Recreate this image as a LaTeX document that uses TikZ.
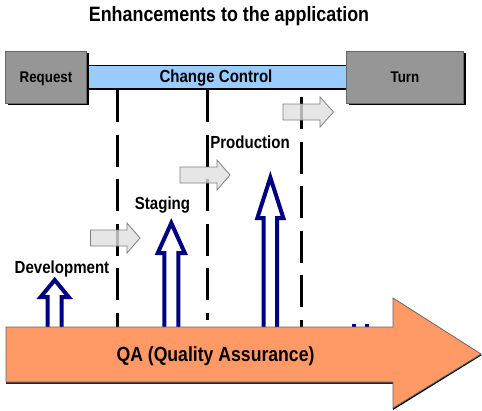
\documentclass[tikz,border=0pt]{standalone}
\usepackage{fontspec}
\setmainfont{Liberation Sans}
\newfontfamily\narrowbold[FakeStretch=0.86]{Liberation Sans Bold}
\usetikzlibrary{calc}
\definecolor{boxgray}{HTML}{969696}
\definecolor{barblue}{HTML}{99CCFF}
\definecolor{qaorange}{HTML}{FF9966}
\definecolor{navyline}{HTML}{000080}
\definecolor{flowgray}{HTML}{E0E0E0}
\tikzset{
  lbl/.style={font=\narrowbold\fontsize{17.5}{20}\selectfont,inner sep=0pt,text=black},
  boxlbl/.style={font=\narrowbold\fontsize{15.5}{18}\selectfont,inner sep=0pt,text=black},
  stagebox/.style={fill=boxgray,draw=black!60,line width=0.8pt,minimum height=52pt,inner sep=0pt},
  boxshadow/.style={fill=black,draw=none},
  dashline/.style={draw=black,line width=3pt,dash pattern=on 32pt off 12.5pt},
  flowarrow/.style={fill=flowgray,fill opacity=0.8,draw=black!50,line width=0.8pt},
  uparrow/.style={draw=navyline,line width=4pt,fill=white,miter limit=10},
  qashape/.style={fill=qaorange,draw=black!60,line width=0.8pt,line join=miter}
}
% right pointing block arrow: left x, head base x, tip x, centre y
\newcommand{\flowarr}[4]{%
  \path[flowarrow] (#1,#4-8) -- (#2,#4-8) -- (#2,#4-15) -- (#3,#4) -- (#2,#4+15) -- (#2,#4+8) -- (#1,#4+8) -- cycle;}
% upward hollow arrow: left x, right x, head base y, tip y, half width of head
\newcommand{\uparr}[5]{%
  \path[uparrow] (#1,327) -- (#1,#3) -- ({(#1+#2)/2-#5},#3) -- ({(#1+#2)/2},#4) -- ({(#1+#2)/2+#5},#3) -- (#2,#3) -- (#2,327);}
\begin{document}
\begin{tikzpicture}[x=1pt,y=-1pt]
\useasboundingbox (0,0) rectangle (482,410);
\node[lbl,font=\narrowbold\fontsize{20.8}{24}\selectfont] (title) at (229,16.5) {Enhancements to the application};
% bar
\path[fill=barblue] (87,66) rectangle (347,89);
\draw[black,line width=0.8pt] (87,65.5) -- (347,65.5);
\draw[black,line width=2pt] (87,89) -- (347,89);
\node[lbl] (cc) at (216,78.5) {Change Control};
% stage boxes
\path[boxshadow] (8,53) rectangle (88.5,104.5);
\path[boxshadow] (349,53) rectangle (465.5,104.5);
\node[stagebox,minimum width=81pt] (req) at (46,77) {};
\node[stagebox,minimum width=117pt] (turn) at (405,77) {};
\node[boxlbl] at ([yshift=-1.5pt]req.center) (reqt) {Request};
\node[boxlbl] at (turn.center) (turnt) {Turn};
% dashed lines
\coordinate (d1a) at (117,90); \coordinate (d1b) at (117,327);
\coordinate (d2a) at (207,90); \coordinate (d2b) at (207,320);
\coordinate (d3a) at (301,97); \coordinate (d3b) at (301,327);
\draw[dashline] (d1a) -- (d1b);
\draw[dashline] (d2a) -- (d2b);
\draw[dashline] (d3a) -- (d3b);
% grey arrows
\flowarr{90.5}{127}{140}{238}
\flowarr{180}{217}{230}{175}
\flowarr{283}{320}{333.5}{112}
% blue arrows
\uparr{47.7}{61.7}{297}{280}{14}
\uparr{164.3}{178.3}{253}{223}{13.5}
\uparr{263.7}{277}{218}{177.5}{13}
\draw[navyline,line width=4pt] (353.7,324) -- (353.7,328) (367,324) -- (367,328);
% QA arrow
\path[fill=black] (393,384) -- (393,410) -- (482,355) -- (480,354) -- cycle;
\path[fill=black!85] (6,380) rectangle (394,383.5);
\path[qashape] (6,327) -- (393,327) -- (393,298) -- (481,354) -- (393,408) -- (393,382) -- (6,382) -- cycle;
\node[lbl,font=\narrowbold\fontsize{20.5}{24}\selectfont] (qa) at (215.5,356.5) {QA (Quality Assurance)};
% stage labels
\node[lbl] (dev) at (62,269) {Development};
\node[lbl] (stg) at (162.5,205.5) {Staging};
\node[lbl] (prod) at (250,142) {Production};
\end{tikzpicture}
\end{document}
